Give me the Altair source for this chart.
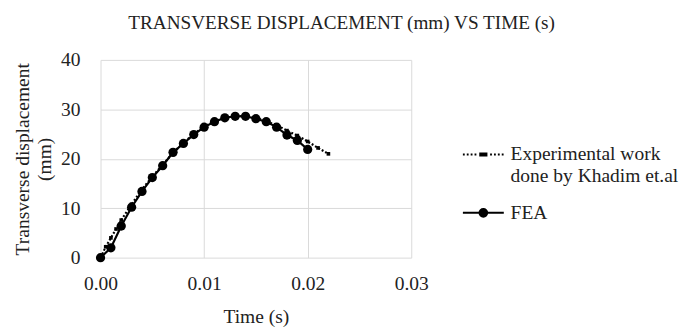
import altair as alt
import pandas as pd

# ---- data ----
fea_time = [0.000, 0.001, 0.002, 0.003, 0.004, 0.005, 0.006, 0.007, 0.008, 0.009,
            0.010, 0.011, 0.012, 0.013, 0.014, 0.015, 0.016, 0.017, 0.018, 0.019, 0.020]
fea_disp = [0.0, 2.0, 6.4, 10.2, 13.4, 16.2, 18.6, 21.3, 23.1, 24.9,
            26.4, 27.5, 28.3, 28.6, 28.6, 28.1, 27.5, 26.4, 24.8, 23.7, 21.9]

exp_time = [0.0000, 0.0005, 0.0010, 0.0015, 0.0020, 0.0030, 0.0040, 0.0050, 0.0060,
            0.0070, 0.0080, 0.0090, 0.0100, 0.0110, 0.0120, 0.0130, 0.0140, 0.0150,
            0.0160, 0.0170, 0.0180, 0.0190, 0.0200, 0.0210, 0.0220]
exp_disp = [0.0, 2.2, 4.0, 5.8, 7.6, 10.8, 13.8, 16.4, 18.8,
            21.2, 23.2, 25.0, 26.5, 27.6, 28.3, 28.6, 28.6, 28.3,
            27.6, 26.8, 25.7, 24.7, 23.5, 22.2, 21.0]

series_names = ["Experimental work done by Khadim et.al", "FEA"]
x_ticks = [0.00, 0.01, 0.02, 0.03]
y_ticks = [0, 10, 20, 30, 40]

df = pd.concat([
    pd.DataFrame({"t": exp_time, "d": exp_disp, "series": series_names[0]}),
    pd.DataFrame({"t": fea_time, "d": fea_disp, "series": series_names[1]}),
])

FONT = "Liberation Serif"

x = alt.X("t:Q", scale=alt.Scale(domain=[0, 0.03], nice=False),
          axis=alt.Axis(title="Time (s)", values=x_ticks, format=".2f", labelFlush=False))
y = alt.Y("d:Q", scale=alt.Scale(domain=[0, 40], nice=False),
          axis=alt.Axis(title=["Transverse displacement", "(mm)"], values=y_ticks,
                        labelFlush=False))

# legend glyphs (custom stroked symbol paths, unit = 21px)
dots = []
pos = -1.0
while pos < 0.99:
    if not (-0.25 < pos < 0.2):
        dots.append(f"M{pos:.3f},0H{pos + 0.09:.3f}")
    pos += 0.19
exp_path = "".join(dots) + "".join(f"M-0.2,{v}H0.2" for v in (-0.05, 0, 0.05))


def ring(r):
    return f"M{-r},0A{r},{r},0,1,0,{r},0A{r},{r},0,1,0,{-r},0"


fea_path = "M-1,0H1" + "".join(ring(r) for r in (0.19, 0.12, 0.05))

legend = alt.Legend(
    title=None,
    orient="none",
    legendX=371,
    legendY=75,
    symbolSize=1764,
    symbolStrokeColor="black",
    symbolStrokeWidth=2,
    symbolOpacity=1,
    labelFont=FONT,
    labelFontSize=20,
    labelColor="#222222",
    labelOffset=6,
    rowPadding=6,
    labelLimit=300,
    labelExpr="datum.label == 'FEA' ? 'FEA' : ['Experimental work', 'done by Khadim et.al']",
)

is_exp = alt.datum.series == series_names[0]
is_fea = alt.datum.series == series_names[1]

exp_line = alt.Chart(df).transform_filter(is_exp).mark_line(
    color="black", strokeWidth=2.2, strokeDash=[2, 2]
).encode(x=x, y=y, order="t:Q")

fea_line = alt.Chart(df).transform_filter(is_fea).mark_line(
    color="black", strokeWidth=2.2
).encode(x=x, y=y, order="t:Q")

exp_pts = alt.Chart(df).transform_filter(is_exp).mark_square(
    color="black", size=14, opacity=1
).encode(x=x, y=y)

fea_pts = alt.Chart(df).transform_filter(is_fea).mark_circle(
    color="black", size=90, opacity=1
).encode(x=x, y=y)

legend_layer = alt.Chart(df).mark_point(
    filled=False, color="black", strokeWidth=2, opacity=0
).encode(
    x=x, y=y,
    shape=alt.Shape("series:N", scale=alt.Scale(domain=series_names, range=[exp_path, fea_path]),
                    legend=legend),
)

chart = alt.layer(exp_line, fea_line, exp_pts, fea_pts, legend_layer).properties(
    width=319,
    height=203,
    title=alt.Title("TRANSVERSE DISPLACEMENT (mm) VS TIME (s)", font=FONT, fontSize=19.7,
                    fontWeight="normal", color="#222222", anchor="middle", frame="group",
                    dx=88, offset=18),
    background="white",
    padding={"left": 5, "top": 1, "right": 5, "bottom": 0},
).configure_view(stroke=None).configure_axis(
    grid=True,
    gridColor="#d9d9d9",
    gridWidth=1,
    domain=False,
    ticks=False,
    tickSize=0,
    labelFont=FONT,
    labelFontSize=20,
    labelColor="#222222",
    titleFont=FONT,
    titleFontSize=20,
    titleFontWeight="normal",
    titleColor="#222222",
).configure_axisY(labelPadding=21, titlePadding=6, titleLineHeight=23
).configure_axisX(labelPadding=17, titlePadding=14)

chart.save("out.html", embed_options={"renderer": "svg", "actions": False})
